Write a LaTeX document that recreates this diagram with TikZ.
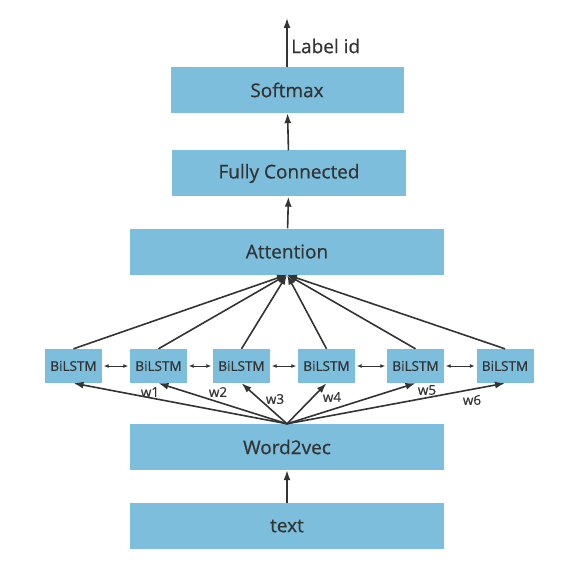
\documentclass[tikz,border=0pt]{standalone}
\usepackage{fontspec}
\setmainfont{Open Sans}[FakeBold=0.6]
\usetikzlibrary{arrows.meta}
\definecolor{boxblue}{HTML}{7DBEDC}
\definecolor{ink}{HTML}{333333}
\begin{document}
\begin{tikzpicture}[x=1pt,y=-1pt]
		\tikzset{layer/.style = {fill=boxblue, text=ink, inner sep=0pt, minimum height=46pt, font=\fontsize{19}{22}\selectfont}}
		\tikzset{cell/.style = {fill=boxblue, text=ink, inner sep=0pt, minimum width=57pt, minimum height=34pt, font=\fontsize{13.5}{16}\selectfont}}
		\tikzset{weight/.style = {text=ink, inner sep=0pt, font=\fontsize{13.5}{16}\selectfont}}
		\tikzset{edge/.style = {-{Latex[length=10pt,width=7pt]}, line width=1.6pt, draw=ink}}
		\useasboundingbox (0,0) rectangle (584,567);
		
		\node[layer, minimum width=233pt]  (1) at ( 287,   90) {Softmax};
		\node[layer, minimum width=234pt]  (2) at ( 289,173.5) {Fully Connected};
		\node[layer, minimum width=314pt]  (3) at ( 287,251.5) {Attention};
		\node[cell]                        (4) at (73.5,  366) {BiLSTM};
		\node[cell]                        (5) at (158.5, 366) {BiLSTM};
		\node[cell]                        (6) at (241.5, 366) {BiLSTM};
		\node[cell]                        (7) at (326.5, 366) {BiLSTM};
		\node[cell]                        (8) at (415.5, 366) {BiLSTM};
		\node[cell]                        (9) at ( 505,  366) {BiLSTM};
		\node[layer, minimum width=314pt] (10) at ( 287,  447) {Word2vec};
		\node[layer, minimum width=314pt] (11) at ( 287,  526) {text};
		
		\coordinate (12) at (287,18);
		\node[weight, anchor=west, font=\fontsize{19}{22}\selectfont] (13) at (291,46) {Label id};
		
		\node[weight] (14) at (150,392) {w1};
		\node[weight] (15) at (218,392) {w2};
		\node[weight] (16) at (275,399) {w3};
		\node[weight] (17) at (332,397) {w4};
		\node[weight] (18) at (427,390) {w5};
		\node[weight] (19) at (472,400) {w6};
		
		\draw[edge] (11) to (10);
		\draw[edge] (3) to  (2);
		\draw[edge] (2) to  (1);
		\draw[edge] (1) to (12);
		\foreach \i in {4,...,9}
		{
			\draw[edge] (10.north) to (\i.south);
			\draw[edge] (\i.north) to (3.south);
		}
		
		\tikzset{edge/.style = {{Latex[length=5pt,width=4pt]}-{Latex[length=5pt,width=4pt]}, line width=1pt, draw=ink, shorten <=1.5pt, shorten >=1.5pt}}
		\draw[edge] (4) to (5);
		\draw[edge] (5) to (6);
		\draw[edge] (6) to (7);
		\draw[edge] (7) to (8);
		\draw[edge] (8) to (9);
\end{tikzpicture}
\end{document}
